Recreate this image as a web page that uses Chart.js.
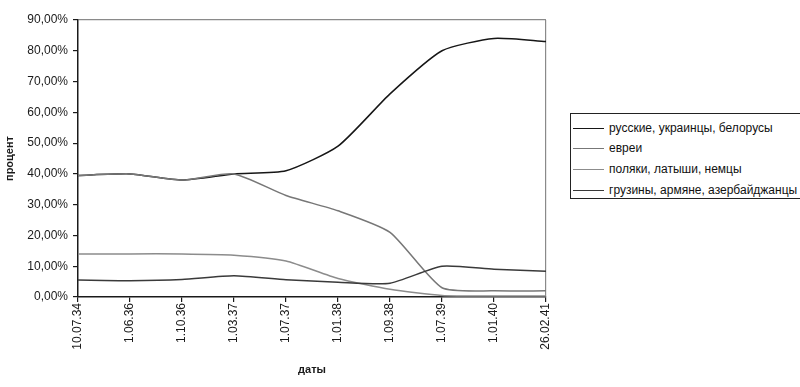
<!DOCTYPE html>
<html><head><meta charset="utf-8">
<script src="https://cdn.jsdelivr.net/npm/chart.js@4/dist/chart.umd.min.js"></script>
<style>
html,body{margin:0;padding:0;background:#fff;overflow:hidden;width:800px;height:387px}
#wrap{position:absolute;left:0;top:0;width:800px;height:387px}
#legend{position:absolute;left:570px;top:113px;width:250px;height:84px;border:1px solid #222;background:#fff;font:12px "Liberation Sans",Arial,sans-serif;color:#111}
.item{position:absolute;left:2px;height:14px;line-height:14px;white-space:nowrap}
.sw{display:inline-block;width:31px;height:0;border-top:1.5px solid;vertical-align:middle;margin-right:5px}
</style></head><body>
<div id="wrap"><canvas id="c" width="800" height="387"></canvas></div>
<div id="legend"></div>
<script>
const dates = ["10.07.34","1.06.36","1.10.36","1.03.37","1.07.37","1.01.38","1.09.38","1.07.39","1.01.40","26.02.41"];
const seriesNames = ["русские, украинцы, белорусы","евреи","поляки, латыши, немцы","грузины, армяне, азербайджанцы"];
const russians  = [39.5, 40, 38, 40, 41, 49, 66, 80, 84, 83];
const jews      = [39.5, 40, 38, 40, 33, 28, 21, 3, 2, 2];
const poles     = [14, 14, 14, 13.6, 11.7, 6, 2.5, 0.5, 0.3, 0.3];
const georgians = [5.5, 5.3, 5.7, 6.9, 5.6, 4.8, 4.5, 10, 9, 8.4];
const yTicks = [0,10,20,30,40,50,60,70,80,90];
const seriesColors = ["#161616","#777777","#8c8c8c","#3a3a3a"];
const seriesData = [russians, jews, poles, georgians];

const FONT = "'Liberation Sans', Arial, sans-serif";

const datasets = seriesNames.map((n,i)=>({
  label: n, data: seriesData[i], borderColor: seriesColors[i], backgroundColor: seriesColors[i],
  borderWidth: 1.5, pointRadius: 0, tension: 0.2, fill: false
}));

new Chart(document.getElementById('c'), {
  type: 'line',
  data: { labels: dates, datasets: datasets.slice().reverse() },
  options: {
    responsive: false, animation: false, devicePixelRatio: 1,
    layout: { padding: { left: 0, right: 254, top: 20, bottom: 0 } },
    plugins: { legend: { display: false }, tooltip: { enabled: false } },
    scales: {
      x: {
        type: 'category', offset: false,
        afterFit: s => { s.height = 90; },
        ticks: { minRotation: 90, maxRotation: 90, autoSkip: false, padding: 1, color: '#1a1a1a', font: { family: FONT, size: 12 } },
        grid: { color: c => c.index === dates.length - 1 ? '#8a8a8a' : 'transparent', tickColor: '#1a1a1a', tickLength: 5, lineWidth: 1.2 },
        border: { color: '#1a1a1a', width: 1.5 },
        title: { display: true, text: 'даты', color: '#1a1a1a', font: { family: FONT, size: 11, weight: 'bold' }, padding: { top: 4, bottom: 10 } }
      },
      y: {
        min: 0, max: 90,
        afterFit: s => { s.width = 78; },
        afterBuildTicks: s => { s.ticks = yTicks.map(v => ({ value: v })); },
        ticks: { padding: 5, color: '#1a1a1a', font: { family: FONT, size: 12 },
          callback: v => v.toFixed(2).replace('.', ',') + '%' },
        grid: { color: c => c.tick && c.tick.value === 90 ? '#8a8a8a' : 'transparent', tickColor: '#1a1a1a', tickLength: 5, lineWidth: 1.2 },
        border: { color: '#1a1a1a', width: 1.5 },
        title: { display: true, text: 'процент', color: '#1a1a1a', font: { family: FONT, size: 11, weight: 'bold' }, padding: { top: 3, bottom: 3 } }
      }
    }
  }
});

const lg = document.getElementById('legend');
const rowTops = [7, 27, 48, 69];
seriesNames.forEach((n,i)=>{
  const d = document.createElement('div');
  d.className = 'item'; d.style.top = rowTops[i] + 'px';
  const sw = document.createElement('span'); sw.className = 'sw'; sw.style.borderTopColor = seriesColors[i];
  d.appendChild(sw); d.appendChild(document.createTextNode(n));
  lg.appendChild(d);
});
</script>
</body></html>
